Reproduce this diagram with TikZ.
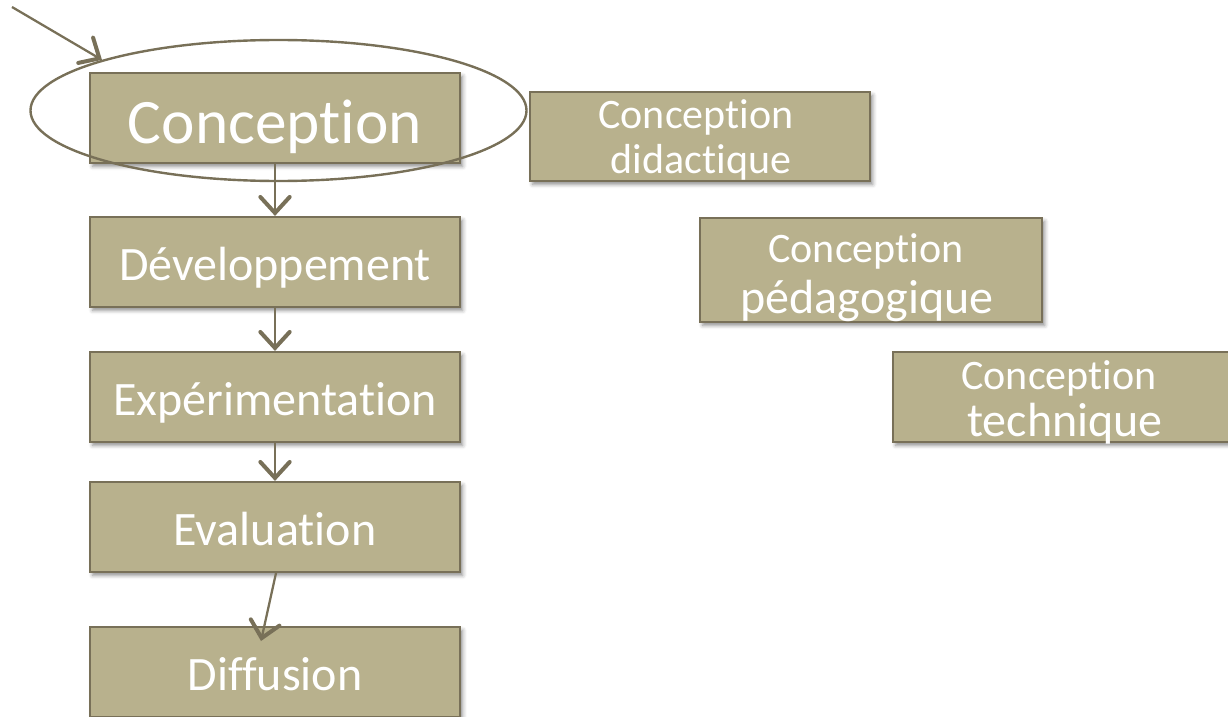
\documentclass[tikz,border=0pt]{standalone}
\usepackage{fontspec}
\setmainfont{Carlito}[Ligatures=NoCommon]
\usetikzlibrary{arrows.meta,shadows.blur,shapes.geometric}
\definecolor{boxfill}{RGB}{184,177,141}
\definecolor{boxline}{RGB}{120,112,88}
\begin{document}
\begin{tikzpicture}[x=0.75pt,y=-0.75pt,
  box/.style={draw=boxline, fill=boxfill, line width=1.6pt, inner sep=0pt,
    minimum width=277.5pt, minimum height=67.5pt, text=white,
    text height=27pt, text depth=0pt,
    blur shadow={shadow xshift=2pt, shadow yshift=-2.5pt, shadow blur radius=3pt, shadow opacity=45}},
  rbox/.style={draw=boxline, fill=boxfill, line width=1.6pt, inner sep=0pt,
    blur shadow={shadow xshift=2pt, shadow yshift=-2.5pt, shadow blur radius=3pt, shadow opacity=45}},
  big/.style={font=\fontsize{47.5}{47.5}\selectfont, text height=37.5pt},
  mid/.style={font=\fontsize{36}{36}\selectfont},
  txt/.style={text=white, inner sep=0pt, anchor=base},
  arr/.style={draw=boxline, line width=1.7pt,
    -{Straight Barb[length=12pt,width=22pt,line width=3pt,line cap=round]}}
]
\useasboundingbox (0,0) rectangle (1228,717);
% left column
\node[box, big] (conc) at (275,118) {Conception};
\node[box, mid] (dev) at (275,262) {Développement};
\node[box, mid] (exp) at (275,397) {Expérimentation};
\node[box, mid] (eval) at (275,527) {Evaluation};
\node[box, mid] (diff) at (275,672) {Diffusion};
% right boxes
\node[rbox, minimum width=255pt, minimum height=66.75pt] (dida) at (700,136.5) {};
\node[txt, font=\fontsize{31.5}{31.5}\selectfont] (didaA) at (696,128) {Conception};
\node[txt, font=\fontsize{31.5}{31.5}\selectfont] (didaB) at (701,173) {didactique};
\node[rbox, minimum width=256.5pt, minimum height=78pt] (peda) at (871,270) {};
\node[txt, font=\fontsize{31.5}{31.5}\selectfont] (pedaA) at (866,262) {Conception};
\node[txt, font=\fontsize{36}{36}\selectfont] (pedaB) at (867,313) {pédagogique};
\node[rbox, minimum width=256.5pt, minimum height=67.5pt] (tech) at (1064,397) {};
\node[txt, font=\fontsize{31.5}{31.5}\selectfont] (techA) at (1059,389) {Conception};
\node[txt, font=\fontsize{36}{36}\selectfont] (techB) at (1065,436) {technique};
% ellipse
\node[draw=boxline, line width=1.8pt, ellipse, minimum width=372pt, minimum height=105.75pt, inner sep=0pt] (ell) at (278.5,110.5) {};
% arrows
\coordinate (start) at (12,7);
\coordinate (difftip) at (261,641);
\draw[arr] (start) -- (ell.164.5);
\draw[arr] (conc.south) -- (dev.north);
\draw[arr] (dev.south) -- (exp.north);
\draw[arr] (exp.south) -- (eval.north);
\draw[arr] ([xshift=0.75pt]eval.south) -- (difftip);
\end{tikzpicture}
\end{document}
